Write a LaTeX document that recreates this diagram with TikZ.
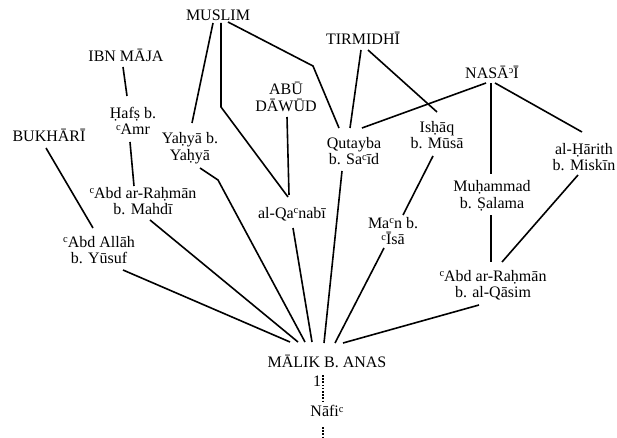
\documentclass[tikz,border=0pt]{standalone}
\usepackage{fontspec}
\setmainfont{Liberation Serif}
\usepackage{graphicx}
\usetikzlibrary{calc}

\newcommand{\ayn}{\raisebox{0.6ex}{\fontsize{10.5}{10.5}\selectfont c}}
\newcommand{\hamza}{\raisebox{0.6ex}{\fontsize{10.5}{10.5}\selectfont\reflectbox{c}}}

\begin{document}
\begin{tikzpicture}[
  x=1pt, y=-1pt,
  person/.style={inner sep=0pt, align=center, font=\fontsize{16}{16.5}\selectfont},
  link/.style={line width=1.6pt},
  chain/.style={line width=1.6pt, dash pattern=on 1.5pt off 1.7pt},
]
  \useasboundingbox (0,0) rectangle (617,438);

  % collectors
  \node[person] (muslim)   at (218,15)  {MUSLIM};
  \node[person] (ibnmaja)  at (126,55)  {IBN MĀJA};
  \node[person] (abudawud) at (286,97)  {ABŪ\\DĀWŪD};
  \node[person] (tirmidhi) at (363,38)  {TIRMIDHĪ};
  \node[person] (nasai)    at (492,72)  {NASĀ\hamza Ī};
  \node[person] (bukhari)  at (49,135)  {BUKHĀRĪ};

  % transmitters
  \node[person] (hafs)     at (133,121) {Ḥafṣ b.\\\ayn Amr};
  \node[person] (yahya)    at (190,148) {Yaḥyā b.\\Yaḥyā};
  \node[person] (mahdi)    at (143,201) {\ayn Abd ar-Raḥmān\\b. Mahdī};
  \node[person] (qanabi)   at (292,214) {al-Qa\ayn nabī};
  \node[person] (abdallah) at (99,250)  {\ayn Abd Allāh\\b. Yūsuf};
  \node[person] (qutayba)  at (354,151) {Qutayba\\b. Sa\ayn īd};
  \node[person] (ishaq)    at (437,135) {Isḥāq\\b. Mūsā};
  \node[person] (harith)   at (584,157) {al-Ḥārith\\b. Miskīn};
  \node[person] (muhammad) at (492,196) {Muḥammad\\b. Ṣalama};
  \node[person] (man)      at (393,231) {Ma\ayn n b.\\\ayn Īsā};
  \node[person] (qasim)    at (493,285) {\ayn Abd ar-Raḥmān\\b. al-Qāsim};

  \node[person] (malik)    at (327,361) {MĀLIK B. ANAS};
  \node[person] (one)      at (317,381) {1};
  \node[person] (nafi)     at (327,411) {Nāfi\ayn};
  \coordinate (chainend) at (323,438);

  % bends
  \coordinate (bendq) at (221,107);
  \coordinate (bendt) at (313,66);
  \coordinate (bendy) at (218,180);

  \draw[link] ([shift={(-5,8)}]muslim.center) -- ([shift={(2,-25)}]yahya.center);
  \draw[link] ([shift={(3,8)}]muslim.center) -- (bendq) -- ([shift={(-4,-17)}]qanabi.center);
  \draw[link] ([shift={(10,7)}]muslim.center) -- (bendt) -- ([shift={(-15,-23)}]qutayba.center);
  \draw[link] ([shift={(-3,12)}]ibnmaja.center) -- ([shift={(-6,-25)}]hafs.center);
  \draw[link] ([shift={(-3,21)}]hafs.center) -- ([shift={(-9,-15)}]mahdi.center);
  \draw[link] ([shift={(-3,13)}]bukhari.center) -- ([shift={(-6,-22)}]abdallah.center);
  \draw[link] ([shift={(1,20)}]abudawud.center) -- ([shift={(-3,-19)}]qanabi.center);
  \draw[link] ([shift={(-2,12)}]tirmidhi.center) -- ([shift={(-4,-23)}]qutayba.center);
  \draw[link] ([shift={(5,12)}]tirmidhi.center) -- ([shift={(0,-23)}]ishaq.center);
  \draw[link] ([shift={(-6,11)}]nasai.center) -- ([shift={(8,-23)}]qutayba.center);
  \draw[link] ([shift={(-1,11)}]nasai.center) -- ([shift={(-1,-22)}]muhammad.center);
  \draw[link] ([shift={(3,11)}]nasai.center) -- ([shift={(-2,-25)}]harith.center);
  \draw[link] ([shift={(-4,21)}]ishaq.center) -- ([shift={(10,-16)}]man.center);
  \draw[link] ([shift={(-6,18)}]harith.center) -- ([shift={(9,-23)}]qasim.center);
  \draw[link] ([shift={(-1,19)}]muhammad.center) -- ([shift={(-2,-23)}]qasim.center);

  % into Malik
  \draw[link] ([shift={(24,20)}]abdallah.center) -- ([shift={(-37,-19)}]malik.center);
  \draw[link] ([shift={(7,19)}]mahdi.center) -- ([shift={(-29,-19)}]malik.center);
  \draw[link] ([shift={(10,20)}]yahya.center) -- (bendy) -- ([shift={(-22,-19)}]malik.center);
  \draw[link] ([shift={(1,14)}]qanabi.center) -- ([shift={(-15,-19)}]malik.center);
  \draw[link] ([shift={(-12,20)}]qutayba.center) -- ([shift={(-3,-18)}]malik.center);
  \draw[link] ([shift={(-9,17)}]man.center) -- ([shift={(8,-18)}]malik.center);
  \draw[link] ([shift={(-14,20)}]qasim.center) -- ([shift={(16,-18)}]malik.center);

  \draw[chain] ([shift={(-4,14)}]malik.center) -- ([shift={(-4,-8)}]nafi.center);
  \draw[chain] ([shift={(-4,16)}]nafi.center) -- (chainend);
\end{tikzpicture}
\end{document}
